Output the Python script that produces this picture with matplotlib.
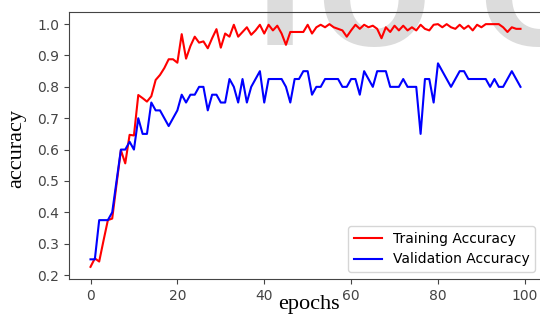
import matplotlib
matplotlib.use('Agg')
import matplotlib.pyplot as plt

# accuracy per epoch
train_acc = [0.226, 0.253, 0.243, 0.31, 0.375, 0.38, 0.49, 0.598, 0.556, 0.647,
             0.645, 0.774, 0.764, 0.753, 0.77, 0.822, 0.838, 0.86, 0.888, 0.888,
             0.877, 0.968, 0.89, 0.93, 0.96, 0.941, 0.945, 0.923, 0.955, 0.984,
             0.925, 0.97, 0.96, 0.998, 0.96, 0.975, 0.99, 0.966, 0.98, 0.998,
             0.97, 0.998, 0.98, 0.995, 0.97, 0.934, 0.975, 0.975, 0.975, 0.975,
             0.998, 0.97, 0.99, 0.998, 0.99, 1.0, 0.99, 0.985, 0.98, 0.96,
             0.98, 0.998, 0.985, 0.998, 0.99, 0.995, 0.985, 0.955, 0.99, 0.975,
             0.995, 0.98, 0.995, 0.98, 0.99, 0.98, 0.998, 0.985, 0.98, 0.998,
             1.0, 0.99, 1.0, 0.99, 0.985, 0.998, 0.985, 0.995, 0.98, 0.998,
             0.99, 1.0, 1.0, 1.0, 1.0, 0.99, 0.975, 0.99, 0.985, 0.985]

val_acc = [0.25, 0.25, 0.375, 0.375, 0.375, 0.4, 0.5, 0.6, 0.6, 0.625,
           0.6, 0.7, 0.65, 0.65, 0.75, 0.725, 0.725, 0.7, 0.675, 0.7,
           0.725, 0.775, 0.75, 0.775, 0.775, 0.8, 0.8, 0.725, 0.775, 0.775,
           0.75, 0.75, 0.825, 0.8, 0.75, 0.825, 0.75, 0.8, 0.825, 0.85,
           0.75, 0.825, 0.825, 0.825, 0.825, 0.8, 0.75, 0.825, 0.825, 0.85,
           0.85, 0.775, 0.8, 0.8, 0.825, 0.825, 0.825, 0.825, 0.8, 0.8,
           0.825, 0.825, 0.775, 0.85, 0.825, 0.8, 0.85, 0.85, 0.85, 0.8,
           0.8, 0.8, 0.825, 0.8, 0.8, 0.8, 0.65, 0.825, 0.825, 0.75,
           0.875, 0.85, 0.825, 0.8, 0.825, 0.85, 0.85, 0.825, 0.825, 0.825,
           0.825, 0.825, 0.8, 0.825, 0.8, 0.8, 0.825, 0.85, 0.825, 0.8]

epochs = list(range(len(train_acc)))

fig = plt.figure(figsize=(5.4, 3.22), dpi=100)
ax = fig.add_axes([69 / 540, 43 / 322, 473 / 540, 267 / 322])

# faint watermark letters, cut off at the top of the image, under the lines
for letter, xc in [('I', 279.5), ('O', 374), ('C', 528)]:
    ax.text(xc / 540, 1 - 45 / 322, letter, transform=fig.transFigure,
            fontsize=97, fontweight='bold', color='#dcdcdc',
            ha='center', va='baseline', zorder=0.5, clip_on=False)

ax.plot(epochs, train_acc, color='red', lw=1.5, label='Training Accuracy')
ax.plot(epochs, val_acc, color='blue', lw=1.5, label='Validation Accuracy')

ax.set_xticks([0, 20, 40, 60, 80, 100])
ax.set_yticks([0.2, 0.3, 0.4, 0.5, 0.6, 0.7, 0.8, 0.9, 1.0])
ax.tick_params(colors='#444444', labelsize=10)
for s in ax.spines.values():
    s.set_color('#444444')

ax.set_xlabel('epochs', fontfamily='Liberation Serif', fontsize=16)
ax.xaxis.set_label_coords(0.507, -0.06)
ax.set_ylabel('accuracy', fontfamily='Liberation Serif', fontsize=16)
ax.yaxis.set_label_coords(-0.091, 0.487)

ax.legend(loc='lower right', fontsize=10)

fig.savefig('out.png', dpi=100)
